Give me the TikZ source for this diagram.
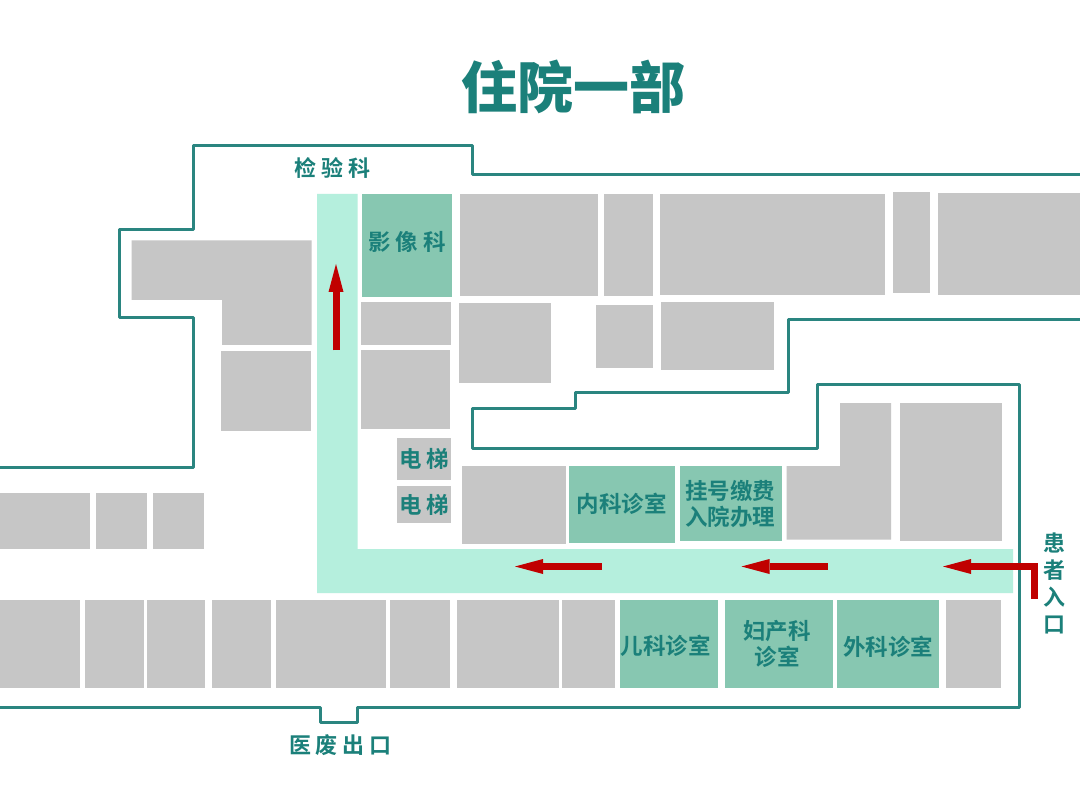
\documentclass[tikz,border=0pt]{standalone}
\usepackage{fontspec}
\usetikzlibrary{arrows.meta}
\newfontfamily\cjkfont[BoldFont={Noto Sans CJK SC Bold}]{Noto Sans CJK SC}
\definecolor{wallteal}{HTML}{2A8580}
\definecolor{labelteal}{HTML}{1B807A}
\definecolor{roomgray}{HTML}{C6C6C6}
\definecolor{roomgreen}{HTML}{87C7B1}
\definecolor{hallgreen}{HTML}{B5EFDD}
\definecolor{flowred}{HTML}{C00000}
\newcommand{\gap}{\hspace{5pt}}
\tikzset{
    wall/.style={draw=wallteal, line width=3pt, line join=round},
    flow/.style={draw=flowred, line width=7pt, -{Triangle[length=28pt,width=15pt,line width=0pt]}},
    roomlabel/.style={text=labelteal, font=\cjkfont\bfseries\fontsize{22.5}{26}\selectfont, align=center},
    sidelabel/.style={text=labelteal, font=\cjkfont\bfseries\fontsize{22}{27}\selectfont, align=center},
}
\begin{document}
\begin{tikzpicture}[x=1pt,y=-1pt]
\useasboundingbox (0,0) rectangle (1080,805);
\fill[white] (0,0) rectangle (1080,805);

% corridor
\fill[hallgreen] (317,194) -- (357.5,194) -- (357.5,549) -- (1013,549) -- (1013,593) -- (317,593) -- cycle;

% gray rooms
\foreach \xa/\ya/\xb/\yb in {
    220.5/351/311/431, 361/302/451/345, 361/350/450/429, 397/438/451/480, 397/486/451/523,
    460/194/598/296, 458.5/303/550.5/383, 604/194/652.5/296, 659.5/194/885/295,
    893/192/929.5/293.5, 938/193/1080/295, 595.5/305/652.5/368, 660.5/302/773.5/370,
    900/403/1002/540.5, 462/466/565.5/544,
    0/492.5/89.5/549, 95.5/492.5/146.5/549, 152.5/492.5/204/549,
    0/600/80/688, 84.5/600/144/688, 147/600/205/688, 212/600/270.5/688, 276/600/385.5/688,
    390/600/449.5/688, 457/600/559/688, 562/600/614.5/688, 946/600/1000.5/688}
{
    \fill[roomgray] (\xa,\ya) rectangle (\xb,\yb);
}
\fill[roomgray] (131.5,240.5) -- (311.5,240.5) -- (311.5,345) -- (222,345) -- (222,300) -- (131.5,300) -- cycle;
\fill[roomgray] (786.5,466) -- (840,466) -- (840,403) -- (891,403) -- (891,539.5) -- (786.5,539.5) -- cycle;

% green rooms
\foreach \xa/\ya/\xb/\yb/\lab/\xt/\yt in {
    362/194/452/297/{影\gap 像\gap 科}/407/242,
    569/466/674.5/542.5/{内科诊室}/621.5/504,
    680/466/782/540.5/{挂号缴费\\入院办理}/730/504,
    620/600/718/688/{儿科诊室}/665.5/646,
    725/600/833/688/{妇产科\\诊室}/777/644,
    837/600/939/688/{外科诊室}/888/647}
{
    \fill[roomgreen] (\xa,\ya) rectangle (\xb,\yb);
    \node[roomlabel] at (\xt,\yt) {\lab};
}

% walls
\draw[wall] (0,467) -- (193,467) -- (193,318) -- (119,318) -- (119,229.5) -- (193,229.5) -- (193,145.5)
    -- (472,145.5) -- (472,174.5) -- (1080,174.5);
\draw[wall] (1080,319.5) -- (788.5,319.5) -- (788.5,392.5) -- (575,392.5) -- (575,408) -- (472,408) -- (472,448)
    -- (817.5,448) -- (817.5,384.5) -- (1019,384.5) -- (1019,707.5) -- (357.5,707.5) -- (357.5,722.5)
    -- (320.5,722.5) -- (320.5,707.5) -- (0,707.5);

% flow arrows
\draw[flow] (336,350.5) -- (336,264);
\draw[flow] (601.5,566.5) -- (515,566.5);
\draw[flow] (827.5,566.5) -- (741.5,566.5);
\draw[flow] (1034.5,598.5) -- (1034.5,566.5) -- (943,566.5);

% elevator and outside labels
\foreach \y in {459,505}
{
    \node[roomlabel] at (424.5,\y) {电\gap 梯};
}
\node[sidelabel] at (332.5,168) {检\gap 验\gap 科};
\node[sidelabel] at (340.5,745) {医\gap 废\gap 出\gap 口};
\node[sidelabel] at (1054,583) {患\\者\\入\\口};

% title
\node[text=labelteal, font=\fontspec{Noto Sans CJK SC Black}\fontsize{56}{60}\selectfont] at (573,87) {住院一部};
\end{tikzpicture}
\end{document}
